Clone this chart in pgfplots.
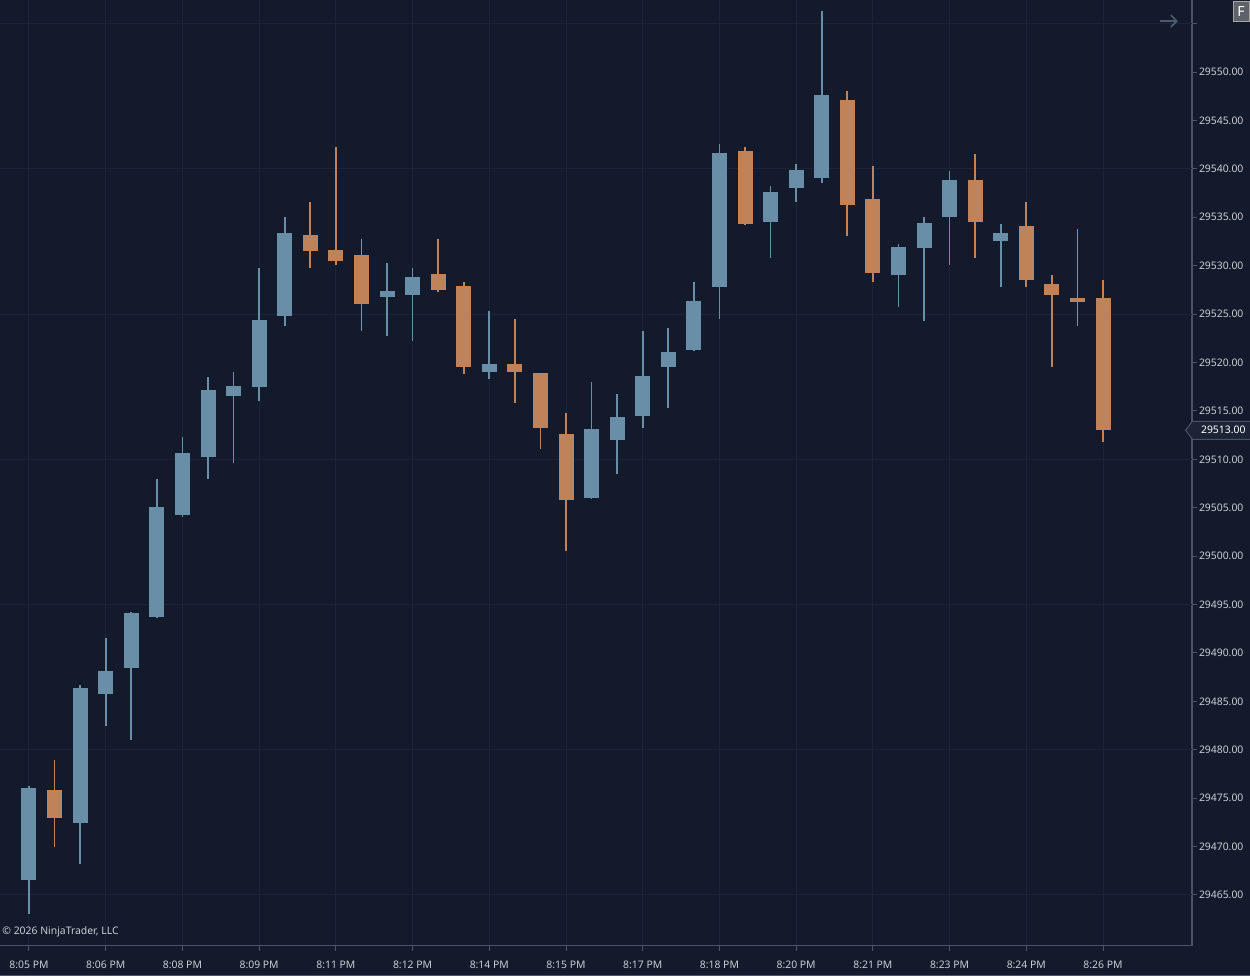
\documentclass[border=0pt]{standalone}
\usepackage{fontspec}
\setmainfont{Noto Sans}
\usepackage{pgfplots}
\pgfplotsset{compat=1.18}
\usepackage{pgfplotstable}
\usetikzlibrary{arrows.meta}

\definecolor{bg}{HTML}{131A2B}
\definecolor{gridc}{HTML}{1B2436}
\definecolor{axisc}{HTML}{4A5466}
\definecolor{txt}{HTML}{C9CDD4}
\definecolor{upc}{HTML}{688EA8}
\definecolor{dnc}{HTML}{C08258}
\definecolor{markbg}{HTML}{1C2435}
\definecolor{fbox}{HTML}{5F6369}
\definecolor{arrowc}{HTML}{4C5A70}

\newcommand{\lbl}{\fontsize{5.2pt}{6pt}\selectfont}

% one-minute candles, x = bar index
\pgfplotstableread{
x  open     high     low      close
0  29466.55 29476.25 29463.03 29476.05
2  29472.43 29486.69 29468.20 29486.38
3  29485.76 29491.54 29482.45 29488.13
4  29488.44 29494.20 29481.00 29494.12
5  29493.71 29507.96 29493.60 29505.07
6  29504.25 29512.30 29504.00 29510.65
7  29510.23 29518.50 29507.96 29517.16
8  29516.54 29519.00 29509.62 29517.57
9  29517.47 29529.76 29516.02 29524.39
10 29524.80 29535.02 29523.77 29533.37
14 29526.76 29530.27 29522.73 29527.38
15 29526.97 29529.76 29522.22 29528.83
18 29519.02 29525.32 29518.29 29519.84
22 29506.00 29517.98 29505.90 29513.13
23 29511.99 29516.74 29508.48 29514.37
24 29514.47 29523.25 29513.23 29518.60
25 29519.53 29523.56 29515.30 29521.08
26 29521.29 29528.31 29521.20 29526.35
27 29527.79 29542.56 29524.49 29541.63
29 29534.51 29538.23 29530.79 29537.61
30 29538.02 29540.50 29536.57 29539.88
31 29539.05 29556.30 29538.54 29547.62
34 29529.03 29532.24 29525.73 29531.93
35 29531.82 29535.02 29524.28 29534.40
36 29535.02 29539.77 29530.07 29538.85
38 29532.54 29534.30 29527.79 29533.37
}\up

\pgfplotstableread{
x  open     high     low      close
1  29475.84 29478.94 29469.95 29472.95
11 29533.16 29536.57 29529.76 29531.51
12 29531.62 29542.25 29530.07 29530.48
13 29531.10 29532.75 29523.25 29526.04
16 29529.14 29532.75 29527.28 29527.48
17 29527.90 29528.31 29518.81 29519.53
19 29519.84 29524.49 29515.81 29519.02
20 29518.91 29518.91 29511.06 29513.23
21 29512.61 29514.78 29500.53 29505.79
28 29541.84 29542.25 29534.20 29534.30
32 29547.11 29548.04 29533.06 29536.26
33 29536.88 29540.29 29528.31 29529.24
37 29538.85 29541.53 29530.79 29534.51
39 29534.09 29536.57 29527.79 29528.52
40 29528.10 29529.03 29519.53 29526.97
41 29526.66 29533.78 29523.77 29526.24
42 29526.66 29528.52 29511.78 29513.00
}\down

\begin{document}
\begin{tikzpicture}
\useasboundingbox (0,0) rectangle (625pt,-488pt);
\fill[bg] (0,0) rectangle (625pt,-488pt);
\begin{axis}[
    at={(0,0)}, anchor=north west,
    scale only axis, width=596pt, height=472.85pt,
    xmin=-1.134, xmax=45.48,
    ymin=29459.76, ymax=29557.44,
    axis x line*=bottom, axis y line*=right,
    axis line style={draw=axisc, line width=0.6pt, -},
    tick style={draw=axisc, line width=0.5pt},
    tick align=outside,
    major tick length=2.5pt,
    xtick={0,3,6,9,12,15,18,21,24,27,30,33,36,39,42},
    xticklabels={8:05 PM,8:06 PM,8:08 PM,8:09 PM,8:11 PM,8:12 PM,8:14 PM,8:15 PM,
        8:17 PM,8:18 PM,8:20 PM,8:21 PM,8:23 PM,8:24 PM,8:26 PM},
    xmajorgrids=true, ymajorgrids=false,
    grid style={draw=gridc, line width=0.5pt},
    ytick={29465,29470,29475,29480,29485,29490,29495,29500,29505,
        29510,29515,29520,29525,29530,29535,29540,29545,29550},
    extra y ticks={29465,29480,29495,29510,29525,29540,29555},
    extra y tick labels={},
    extra y tick style={grid=major},
    scaled y ticks=false,
    /pgf/number format/assume math mode=true,
    yticklabel style={font=\lbl, text=txt, anchor=west, inner sep=0pt, xshift=0.8pt,
        /pgf/number format/.cd, fixed, fixed zerofill, precision=2, 1000 sep={}},
    xticklabel style={font=\lbl, text=txt, anchor=north, inner sep=0pt, yshift=-4.8pt},
    clip=false,
]
% wicks
\addplot[draw=none, mark=none, forget plot,
    error bars/.cd, y dir=plus, y explicit, error mark=none,
    error bar style={draw=upc, line width=0.8pt}]
    table[x=x, y=low, y error plus expr=\thisrow{high}-\thisrow{low}] {\up};
\addplot[draw=none, mark=none, forget plot,
    error bars/.cd, y dir=plus, y explicit, error mark=none,
    error bar style={draw=dnc, line width=0.8pt}]
    table[x=x, y=low, y error plus expr=\thisrow{high}-\thisrow{low}] {\down};
% bodies
\addplot[draw=none, mark=none, forget plot,
    error bars/.cd, y dir=plus, y explicit, error mark=none,
    error bar style={draw=upc, line width=7.5pt}]
    table[x=x, y=open, y error plus expr=\thisrow{close}-\thisrow{open}] {\up};
\addplot[draw=none, mark=none, forget plot,
    error bars/.cd, y dir=plus, y explicit, error mark=none,
    error bar style={draw=dnc, line width=7.5pt}]
    table[x=x, y=close, y error plus expr=\thisrow{open}-\thisrow{close}] {\down};
\coordinate (pm) at (axis cs:45.48,29513);
\end{axis}

% last price marker
\draw[fill=markbg, draw=axisc, line width=0.5pt]
    ([xshift=-3.2pt]pm) -- ++(3.4pt,4.5pt) -- ++(40pt,0) -- ++(0,-9pt) -- ++(-40pt,0) -- cycle;
\node[anchor=west, inner sep=0pt, font=\lbl, text=white] at ([xshift=4.35pt]pm) {29513.00};

\begin{scope}[x=0.5pt, y=-0.5pt]
\node[anchor=west, inner sep=0pt, font=\lbl, text=txt] at (2,932) {© 2026 NinjaTrader, LLC};
\draw[arrowc, line width=0.8pt, -{Straight Barb[length=3pt, width=6pt]}] (1160,21) -- (1178,21);
\draw[fill=fbox, draw=gray!70, line width=0.4pt] (1233,1.5) rectangle (1249,21.5);
\node[text=white, font=\fontsize{7pt}{8pt}\selectfont\bfseries] at (1241,11.5) {F};
\draw[axisc, line width=0.5pt] (0,975) -- (1250,975);
\end{scope}
\end{tikzpicture}
\end{document}
